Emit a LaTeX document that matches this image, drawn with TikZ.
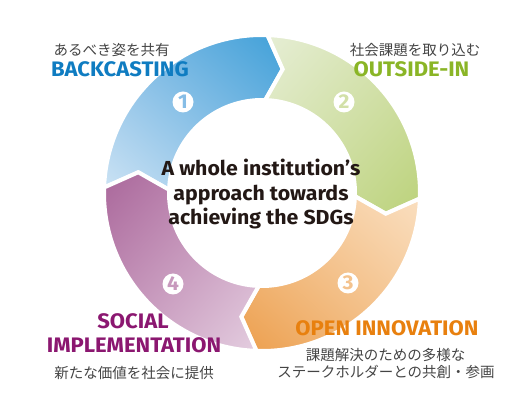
\documentclass[tikz,border=0pt]{standalone}
\usepackage{fontspec}
\usetikzlibrary{shadings}
\newfontfamily\dinb[FakeStretch=1.05]{Fira Sans}
\newfontfamily\jp{Noto Sans CJK JP}
\definecolor{bluedark}{HTML}{3FA0D8}
\definecolor{bluemid}{HTML}{86BDE6}
\definecolor{bluelight}{HTML}{CCE3F4}
\definecolor{greenlight}{HTML}{E6EED5}
\definecolor{greenmid}{HTML}{D2E0A8}
\definecolor{greendark}{HTML}{BBD27A}
\definecolor{orangelight}{HTML}{FADFC0}
\definecolor{orangemid}{HTML}{F4C38E}
\definecolor{orangedark}{HTML}{EC9E4C}
\definecolor{purplelight}{HTML}{E4CEE0}
\definecolor{purplemid}{HTML}{C899BD}
\definecolor{purpledark}{HTML}{A9669A}
\definecolor{txtblue}{HTML}{0F7CC1}
\definecolor{txtgreen}{HTML}{8AB526}
\definecolor{txtorange}{HTML}{E8800E}
\definecolor{txtpurple}{HTML}{8B1770}
\definecolor{txtdark}{HTML}{231815}
\definecolor{txtgray}{HTML}{444444}
\newcommand\Ro{158}
\newcommand\Ri{93}
\newcommand\Rm{125.5}
\newcommand\dt{7.5}
\newcommand\ringseg[2]{%
  \shadedraw[segline,#2] (#1:\Ro) arc[start angle=#1, end angle=#1-90, radius=\Ro]
    -- (#1-90-\dt:\Rm) -- (#1-90:\Ri)
    arc[start angle=#1-90, end angle=#1, radius=\Ri]
    -- (#1-\dt:\Rm) -- cycle;}
\begin{document}
\begin{tikzpicture}[x=1pt,y=1pt,
  segline/.style={draw=white, line width=4pt, line join=miter},
  numc/.style={circle, fill=white, minimum size=21pt, inner sep=0pt,
    font=\dinb\bfseries\fontsize{20}{20}\selectfont},
  enlab/.style={anchor=base, inner sep=0pt, font=\dinb\bfseries\fontsize{21}{21}\selectfont},
  jplab/.style={anchor=base, inner sep=0pt, text=txtgray, font=\jp\fontsize{14.5}{14.5}\selectfont},
  centertxt/.style={anchor=base, inner sep=0pt, align=center, text=txtdark,
    font=\dinb\bfseries\fontsize{20.3}{24.5}\selectfont}]
\useasboundingbox (0,0) rectangle (530,412);
\coordinate (C) at (262,219);
\begin{scope}[shift={(C)}]
  \ringseg{178}{upper right=bluedark, lower left=bluelight, upper left=bluemid, lower right=bluemid}
  \ringseg{88}{upper left=greenlight, lower right=greendark, upper right=greenmid, lower left=greenmid}
  \ringseg{-2}{upper right=orangelight, lower left=orangedark, upper left=orangemid, lower right=orangemid}
  \ringseg{-92}{lower right=purplelight, upper left=purpledark, upper right=purplemid, lower left=purplemid}
\end{scope}
\node[numc, text=bluemid] (n1) at (183,310) {1};
\node[numc, text=greenmid] (n2) at (344,310) {2};
\node[numc, text=orangemid] (n3) at (348,129) {3};
\node[numc, text=purplemid] (n4) at (173,128) {4};
\node[centertxt] (ctr) at (261,187) {A whole institution’s\\approach towards\\achieving the SDGs};
\node[jplab] (jp1) at (111.5,356) {あるべき姿を共有};
\node[enlab, text=txtblue] (en1) at (120,335) {BACKCASTING};
\node[jplab] (jp2) at (415,356) {社会課題を取り込む};
\node[enlab, text=txtgreen] (en2) at (411.5,335) {OUTSIDE-IN};
\node[enlab, text=txtorange] (en3) at (387,76) {OPEN INNOVATION};
\node[jplab] (jp3a) at (385.5,51) {課題解決のための多様な};
\node[jplab] (jp3b) at (386,34) {ステークホルダーとの共創・参画};
\node[enlab, text=txtpurple] (en4a) at (133,83) {SOCIAL};
\node[enlab, text=txtpurple] (en4b) at (134,59) {IMPLEMENTATION};
\node[jplab] (jp4) at (134,33) {新たな価値を社会に提供};
\end{tikzpicture}
\end{document}
